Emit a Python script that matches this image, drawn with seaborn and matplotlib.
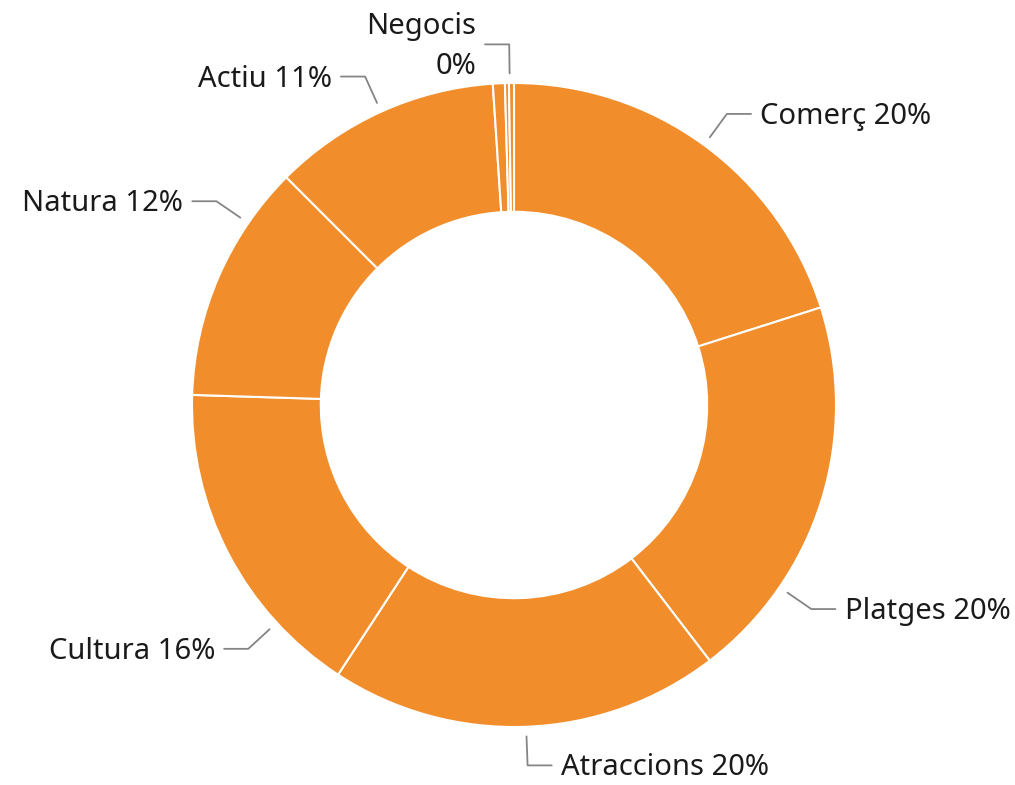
import numpy as np
import matplotlib
matplotlib.use('Agg')
import matplotlib.pyplot as plt
import seaborn as sns

# data: share of visits per category (%), clockwise from 12 o'clock
categories = ['Comerç', 'Platges', 'Atraccions', 'Cultura', 'Natura', 'Actiu',
              'Esdeveniments', 'Negocis', 'Salut']
shares = [20.1, 19.5, 19.6, 16.3, 12.0, 11.45, 0.6, 0.2, 0.25]
# labels the original chart shows (the other tiny slices had theirs hidden)
shown = ['Comerç', 'Platges', 'Atraccions', 'Cultura', 'Natura', 'Actiu', 'Negocis']

# INITIALIZE A FEW THINGS
sns.set_theme(style='white')
plt.rcParams['font.family'] = ['Noto Sans', 'DejaVu Sans']
orange = '#F18D2B'
textcol = '#1a1a1a'
linecol = '#858585'
# some leader lines are pushed sideways (degrees clockwise) to avoid collisions
nudge = {'Platges': 17, 'Cultura': -15, 'Natura': 11, 'Negocis': 0.5}

fig = plt.figure(figsize=(10.15, 7.85), dpi=100)
ax = fig.add_axes([0, 0, 1, 1])

wedges, _ = ax.pie(shares, startangle=90, counterclock=False,
                   colors=[orange] * len(shares), radius=1,
                   wedgeprops=dict(width=0.4, edgecolor='white', linewidth=1.5))

# ================================= #
# LABELS WITH LEADER LINES
# ================================= #
for w, cat, val in zip(wedges, categories, shares):
    if cat not in shown:
        continue
    ang = np.deg2rad((w.theta1 + w.theta2) / 2 - nudge.get(cat, 0))
    x0, y0 = 1.03 * np.cos(ang), 1.03 * np.sin(ang)
    x1, y1 = 1.12 * np.cos(ang), 1.12 * np.sin(ang)
    side = 1 if x1 >= 0 else -1
    x2 = x1 + side * 0.075
    ax.plot([x0, x1, x2], [y0, y1, y1], color=linecol, lw=1.3)
    sep = '\n' if cat == 'Negocis' else ' '
    ax.text(x2 + side * 0.028, y1 - 0.008, f'{cat}{sep}{round(val):.0f}%',
            ha='left' if side > 0 else 'right', va='center',
            multialignment='right', linespacing=1.5,
            fontsize=21, color=textcol)

ax.set_xlim(-514 / 322, (1015 - 514) / 322)
ax.set_ylim((405 - 785) / 322, 405 / 322)
ax.axis('off')

fig.savefig('out.png', dpi=100)
plt.close('all')
